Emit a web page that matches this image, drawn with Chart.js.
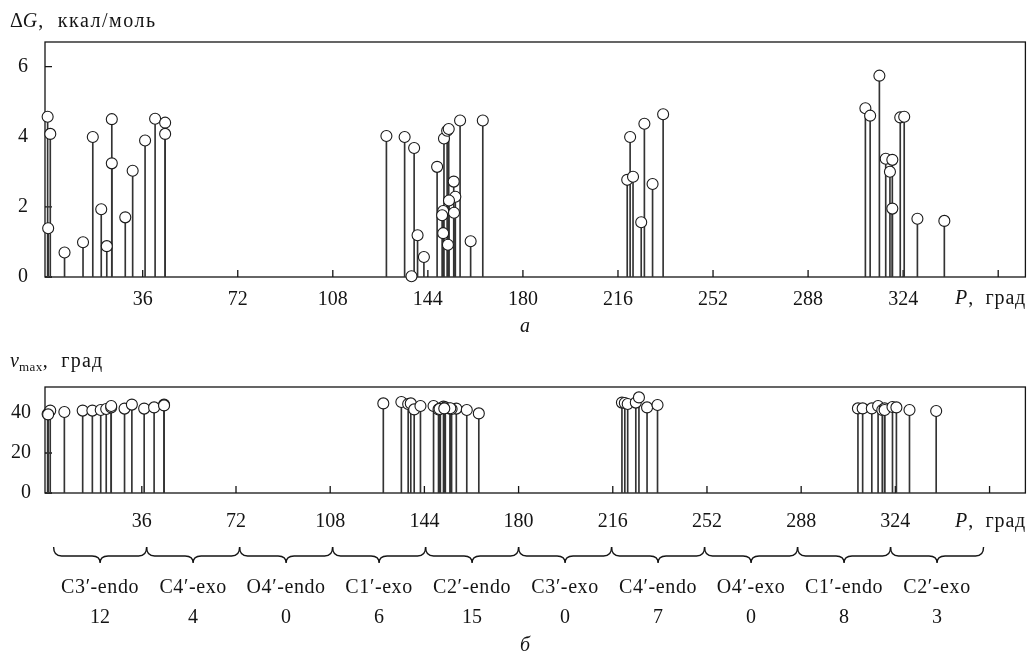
<!DOCTYPE html>
<html><head><meta charset="utf-8">
<script src="https://cdn.jsdelivr.net/npm/chart.js@4"></script>
<style>
html,body{margin:0;padding:0;background:#fff;}
#wrap{position:relative;width:1032px;height:657px;overflow:hidden;}
canvas{position:absolute;left:0;}
</style></head><body>
<div id="wrap">
<canvas id="topChart" width="1032" height="340" style="top:0"></canvas>
<canvas id="botChart" width="1032" height="317" style="top:340px"></canvas>
</div>
<script>
// Pseudorotation phase angle P (deg)
const pAngle = [
  0, 1.0, 0.2, 6.4, 13.4, 17.1, 20.3, 22.4, 24.3, 24.3, 29.4, 32.2,
  36.9, 40.7, 44.5, 44.5,
  128.3, 135.2, 137.8, 138.8, 140.1, 142.5,
  147.5, 150.1, 151.3, 151.9, 156.2, 164.8, 153.8, 154.4, 152.0, 149.8, 149.4, 153.9, 149.8, 151.6, 160.2,
  219.5, 220.6, 221.7, 224.8, 226.0, 229.1, 233.1,
  309.7, 311.5, 315.0, 317.4, 319.0, 319.9, 319.9, 322.9,
  324.4, 329.4, 339.6
];
// ΔG, kcal/mol
const deltaG = [
  4.57, 4.08, 1.39, 0.70, 0.99, 3.99, 1.93, 0.88, 4.50, 3.24, 1.70, 3.03,
  3.89, 4.51, 4.40, 4.08,
  4.02, 3.99, 0.02, 3.68, 1.19, 0.57,
  3.14, 3.95, 4.17, 4.22, 4.46, 4.46, 2.72, 2.29, 2.18, 1.88, 1.76, 1.83, 1.25, 0.92, 1.02,
  2.77, 3.99, 2.86, 1.56, 4.37, 2.65, 4.64,
  4.81, 4.60, 5.74, 3.37, 3.00, 3.34, 1.95, 4.55,
  4.57, 1.66, 1.60
];
// ν_max, deg
const nuMax = [
  39.5, 41.2, 39.3, 40.5, 41.2, 41.2, 41.5, 42.0, 42.8, 43.5, 42.2, 44.2,
  42.2, 42.8, 44.2, 43.8,
  44.8, 45.5, 44.5, 44.8, 41.8, 43.5,
  43.5, 42.3, 43.2, 42.5, 42.2, 39.8, 42.2, 42.0, 42.8, 42.0, 41.8, 42.4, 42.0, 42.3, 41.5,
  45.2, 45.0, 44.5, 45.2, 47.8, 42.8, 44.0,
  42.3, 42.3, 42.3, 43.5, 41.5, 42.3, 41.5, 43.0,
  42.8, 41.5, 41.0
];
const xTickValues = [36, 72, 108, 144, 180, 216, 252, 288, 324, 360];
const xTickLabels = ['36', '72', '108', '144', '180', '216', '252', '288', '324', ''];
const yTopTicks = [0, 2, 4, 6];
const yBotTicks = [0, 20, 40];
const braceEdges = [0, 36, 72, 108, 144, 180, 216, 252, 288, 324, 360];
const conformers = ['C3′-endo', 'C4′-exo', 'O4′-endo', 'C1′-exo', 'C2′-endo', 'C3′-exo', 'C4′-endo', 'O4′-exo', 'C1′-endo', 'C2′-exo'];
const conformerCounts = ['12', '4', '0', '6', '15', '0', '7', '0', '8', '3'];

const FAM = '"Liberation Serif", "DejaVu Serif", serif';
const INK = '#141414';
Chart.defaults.font.family = FAM;
Chart.defaults.font.size = 20;
Chart.defaults.color = INK;

function runs(ctx, x, y, parts) {
  ctx.textBaseline = 'alphabetic';
  ctx.textAlign = 'left';
  let cx = x;
  parts.forEach(p => {
    ctx.font = p.f;
    ctx.letterSpacing = p.ls || '0px';
    ctx.fillText(p.t, cx, y + (p.dy || 0));
    cx += ctx.measureText(p.t).width + (p.sp || 0);
  });
  ctx.letterSpacing = '0px';
}
const R = '20px ' + FAM, I = 'italic 20px ' + FAM;

const frameTicks = {
  id: 'frameTicks',
  beforeDatasetsDraw(chart) {
    const { ctx, chartArea: a, scales: { x, y } } = chart;
    ctx.save();
    ctx.strokeStyle = INK; ctx.lineWidth = 1.3;
    ctx.strokeRect(a.left, a.top, a.right - a.left, a.bottom - a.top);
    ctx.beginPath();
    x.ticks.forEach(t => { const px = x.getPixelForValue(t.value); ctx.moveTo(px, a.bottom); ctx.lineTo(px, a.bottom - 7); });
    y.ticks.forEach(t => { const py = y.getPixelForValue(t.value); ctx.moveTo(a.left, py); ctx.lineTo(a.left + 7, py); });
    ctx.stroke();
    ctx.restore();
  }
};

function textPlugin(fn) {
  return { id: 'txt', afterDraw(chart) { const c = chart.ctx; c.save(); c.fillStyle = INK; fn(chart, c); c.restore(); } };
}

function makeChart(id, vals, yMax, yTicks, o) {
  const pts = pAngle.map((p, i) => ({ x: p, y: vals[i] }));
  return new Chart(document.getElementById(id), {
    type: 'bar',
    data: { datasets: [
      { type: 'bar', data: pts, backgroundColor: '#333', borderWidth: 0, barThickness: 1, order: 2 },
      { type: 'scatter', data: pts, pointRadius: 5.5, pointBackgroundColor: '#fff', pointBorderColor: '#1a1a1a', pointBorderWidth: 1.1, order: 1, clip: false, showLine: false }
    ] },
    options: {
      responsive: false, animation: false, devicePixelRatio: 1,
      layout: { padding: { left: 0, top: o.padTop, right: o.padRight, bottom: 0 } },
      plugins: { legend: { display: false }, tooltip: { enabled: false } },
      scales: {
        x: {
          type: 'linear', min: -1, max: o.xMax, offset: false,
          grid: { display: false, drawTicks: false }, border: { display: false },
          afterBuildTicks: s => { s.ticks = xTickValues.map(v => ({ value: v })); },
          ticks: { autoSkip: false, maxRotation: 0, minRotation: 0, padding: o.xPad, callback: (v, i) => xTickLabels[i] },
          afterFit: s => { s.height = o.xHeight; }
        },
        y: {
          type: 'linear', min: 0, max: yMax,
          grid: { display: false, drawTicks: false }, border: { display: false },
          afterBuildTicks: s => { s.ticks = yTicks.map(v => ({ value: v })); },
          ticks: { padding: o.yPad, callback: (v, i) => String(yTicks[i]) },
          afterFit: s => { s.width = 45; }
        }
      }
    },
    plugins: [frameTicks, textPlugin(o.draw)]
  });
}

makeChart('topChart', deltaG, 6.7, yTopTicks, {
  padTop: 42, padRight: 3, xMax: 370.3, xHeight: 63, xPad: 11, yPad: 17,
  draw(chart, c) {
    runs(c, 10, 27, [{ t: 'Δ', f: R }, { t: 'G', f: I, sp: 1 }, { t: ',  ккал/моль', f: R, ls: '1.5px' }]);
    runs(c, 955, 304, [{ t: 'P', f: I, sp: 1 }, { t: ',  град', f: R, ls: '0.8px' }]);
    c.font = I; c.textAlign = 'center'; c.fillText('a', 525, 332);
  }
});

makeChart('botChart', nuMax, 53, yBotTicks, {
  padTop: 47, padRight: 5, xMax: 373.7, xHeight: 164, xPad: 17, yPad: 14,
  draw(chart, c) {
    runs(c, 10, 27, [{ t: 'ν', f: I }, { t: 'max', f: '13px ' + FAM, dy: 4, ls: '0.5px' }, { t: ',  град', f: R, ls: '1.2px' }]);
    runs(c, 955, 187, [{ t: 'P', f: I, sp: 1 }, { t: ',  град', f: R, ls: '0.8px' }]);
    const xs = chart.scales.x;
    const x0 = xs.getPixelForValue(braceEdges[0]) + 6;
    const x1 = xs.getPixelForValue(braceEdges[braceEdges.length - 1]) - 6;
    const e0 = braceEdges[0], eN = braceEdges[braceEdges.length - 1];
    const px = e => x0 + (e - e0) / (eN - e0) * (x1 - x0);
    const y0 = 207, y1 = 216, y2 = 223, r = 8;
    c.strokeStyle = INK; c.lineWidth = 1.4;
    c.textAlign = 'center'; c.textBaseline = 'alphabetic';
    for (let k = 0; k < braceEdges.length - 1; k++) {
      const a = px(braceEdges[k]), b = px(braceEdges[k + 1]), m = (a + b) / 2;
      c.beginPath();
      c.moveTo(a, y0); c.quadraticCurveTo(a, y1, a + r, y1);
      c.lineTo(m - r, y1); c.quadraticCurveTo(m, y1, m, y2);
      c.quadraticCurveTo(m, y1, m + r, y1);
      c.lineTo(b - r, y1); c.quadraticCurveTo(b, y1, b, y0);
      c.stroke();
      c.font = R;
      c.letterSpacing = '0.6px';
      c.fillText(conformers[k], m, 253);
      c.letterSpacing = '0px';
      c.fillText(conformerCounts[k], m, 283);
    }
    c.font = I; c.fillText('б', 525, 311);
  }
});
</script>
</body></html>
